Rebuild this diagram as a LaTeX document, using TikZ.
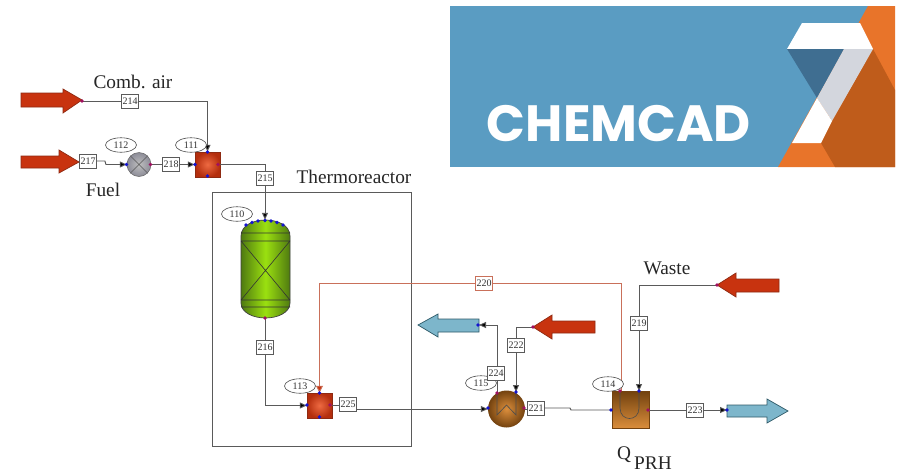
\documentclass[tikz,border=0pt]{standalone}
\usepackage{fontspec}
\setmainfont{Liberation Serif}
\newfontfamily\logofont{Poppins}
\usetikzlibrary{arrows.meta,shapes.geometric}
\definecolor{logoblue}{HTML}{5A9CC2}
\definecolor{logoorange}{HTML}{E8742A}
\definecolor{logodark}{HTML}{BF5C1B}
\definecolor{logonavy}{HTML}{3F6E91}
\definecolor{logogrey}{HTML}{D3D6DD}
\definecolor{hotred}{HTML}{C8330F}
\definecolor{hotedge}{HTML}{8E2A12}
\definecolor{HotCore}{HTML}{EE6A42}
\definecolor{coldblue}{HTML}{7DB6CB}
\definecolor{coldedge}{HTML}{2F5A68}
\definecolor{linegrey}{HTML}{5A5A5A}
\definecolor{streamred}{HTML}{C9705A}
\definecolor{portblue}{HTML}{1414D0}
\definecolor{portmag}{HTML}{A01060}
\definecolor{GreenCore}{HTML}{9BE010}
\definecolor{GreenRim}{HTML}{4F7A10}
\definecolor{BrownCore}{HTML}{DB8E3C}
\definecolor{BrownRim}{HTML}{73420F}
\tikzset{
  x=1pt,y=-1pt,
  flow/.style={draw=linegrey,line width=0.95pt,line join=miter},
  flowin/.style={flow,-{Triangle[length=7pt,width=6pt,fill=black]}},
  recycle/.style={draw=streamred,line width=0.95pt},
  recyclein/.style={recycle,-{Triangle[length=7pt,width=7pt,fill=hotred]}},
  tag/.style={draw=linegrey,fill=white,line width=0.9pt,inner sep=0pt,minimum width=17pt,minimum height=14pt,font=\fontsize{10}{11}\selectfont,text=black!80},
  unit/.style={ellipse,draw=black!70,fill=white,line width=0.6pt,inner sep=0pt,minimum width=31pt,minimum height=14.5pt,font=\fontsize{10}{11}\selectfont,text=black!80},
  caption/.style={inner sep=0pt,font=\fontsize{19.3}{22}\selectfont,text=black!85},
  mixer/.style={rectangle,minimum size=25pt,inner sep=0pt,draw=hotedge,line width=0.5pt,inner color=HotCore,outer color=hotred!90!black},
  hot/.style={fill=hotred,draw=hotedge,line width=0.7pt,line join=miter},
  cold/.style={fill=coldblue,draw=coldedge,line width=0.7pt,line join=miter},
  blueport/.style={fill=portblue},
  magport/.style={fill=portmag}
}
\newcommand{\pbl}[1]{\fill[blueport] (#1) circle (1.9pt);}
\newcommand{\pmg}[1]{\fill[magport] (#1) circle (1.9pt);}
\begin{document}
\begin{tikzpicture}
\useasboundingbox (0,0) rectangle (897,472);
\fill[white] (0,0) rectangle (897,472);
% logo
\fill[logoblue] (450,6) rectangle (895,167);
\fill[logoorange] (868,6) -- (895,6) -- (895,167) -- (778,167) -- cycle;
\fill[logodark] (873,49) -- (895,90) -- (895,167) -- (835,167) -- (821,143) -- (832,121) -- cycle;
\fill[white] (802,23) -- (860,23) -- (873,49) -- (787,49) -- cycle;
\fill[logonavy] (787,49) -- (844,49) -- (817,98) -- cycle;
\fill[logogrey] (844,49) -- (873,49) -- (832,121) -- (817,98) -- cycle;
\fill[white] (817,98) -- (832,121) -- (821,143) -- (792,143) -- cycle;
\node[inner sep=0pt,text=white,font=\logofont\bfseries\fontsize{51}{54}\selectfont] (logotext) at (619,124) {CHEMCAD};
% reactor frame
\draw[draw=linegrey,line width=0.95pt] (212,192) rectangle (411,446);
% source and sink arrows
\path[hot] (21,93) -- (63,93) -- (63,89) -- (82,100) -- (63,113) -- (63,107) -- (21,107) -- cycle;
\path[hot] (21,156) -- (59,156) -- (59,150) -- (79,162) -- (59,173) -- (59,168) -- (21,168) -- cycle;
\path[hot] (595,321) -- (552,321) -- (552,315) -- (533,327) -- (552,339) -- (552,333) -- (595,333) -- cycle;
\path[hot] (779,279) -- (736,279) -- (736,273) -- (717,285) -- (736,297) -- (736,292) -- (779,292) -- cycle;
\path[cold] (479,319) -- (438,319) -- (438,314) -- (418,325) -- (438,337) -- (438,332) -- (479,332) -- cycle;
\path[cold] (727,405) -- (767,405) -- (767,399) -- (788,411) -- (767,423) -- (767,417) -- (727,417) -- cycle;
\coordinate (air) at (82,101);
\coordinate (fuel) at (79,162);
\coordinate (steam) at (533,327);
\coordinate (waste) at (717,285);
\coordinate (out1) at (479,325);
\coordinate (out2) at (727,410);
% vessel
\path[draw=black!75,line width=0.7pt,left color=GreenRim,right color=GreenRim,middle color=GreenCore]
 (241,236) .. controls (241,225) and (254,220) .. (265.5,220) .. controls (277,220) and (290,225) .. (290,236) -- (290,303) .. controls (290,313) and (277,318) .. (265.5,318) .. controls (254,318) and (241,313) .. (241,303) -- cycle;
\node[rectangle,minimum width=49pt,minimum height=98pt,inner sep=0pt] (v110) at (265,269) {};
\draw[black!80,line width=0.6pt] (241,233) -- (290,233) (241,241) -- (290,241) (241,300) -- (290,300) (241,307) -- (290,307) (241,241) -- (290,300) (290,241) -- (241,300);
% equipment
\node[mixer] (m111) at (207.5,164.5) {};
\node[mixer] (m113) at (319.5,405.5) {};
\node[circle,minimum size=24pt,inner sep=0pt,draw=black!60,line width=0.5pt,inner color=black!25,outer color=blue!10!black!45] (p112) at (139,164.5) {};
\draw[black!65,line width=0.6pt] (p112.north west) -- (p112.south east) (p112.north east) -- (p112.south west);
\node[circle,minimum size=37pt,inner sep=0pt,inner color=BrownCore,outer color=BrownRim] (h115) at (506.5,409) {};
\node[rectangle,minimum width=37pt,minimum height=37pt,inner sep=0pt,draw=BrownRim,line width=0.4pt,top color=BrownRim,bottom color=BrownCore] (h114) at (630.5,410) {};
\draw[black!70,line width=0.6pt] (497,393) -- (497,415) -- (506.5,405) -- (516,415) -- (516,393);
\draw[black!70,line width=0.6pt] (620,391) -- (620,408) .. controls (620,422) and (639,422) .. (639,408) -- (639,391);
\node[unit] (u115) at (481,383) {115};
% stream tags
\node[tag] (s214) at (130,101) {214};
\node[tag] (s217) at (88,161) {217};
\node[tag] (s218) at (171,164.5) {218};
\node[tag] (s215) at (265,178) {215};
\node[tag] (s216) at (265,347) {216};
\node[tag] (s225) at (348,404) {225};
\node[tag,draw=streamred] (s220) at (484,283) {220};
\node[tag] (s224) at (496,373) {224};
\node[tag] (s222) at (516,345) {222};
\node[tag] (s221) at (536,408) {221};
\node[tag] (s219) at (639,323) {219};
\node[tag] (s223) at (695,410) {223};
\coordinate (h115a) at (497,393);
\coordinate (h115b) at (516,392);
\coordinate (h114a) at (621,391);
\coordinate (h114b) at (639,391);
% connectors
\draw[flow] (air) -- (s214);
\draw[flowin] (s214) -| (m111.north);
\draw[flowin] (s217.east) -- ++(8,0) -- ++(1,3.5) -- (p112.west);
\draw[flow] (p112.east) -- (s218);
\draw[flowin] (s218) -- (m111.west);
\draw[flow] (m111.east) -| (s215.north);
\draw[flowin] (s215) -- (v110.north);
\draw[flow] (v110.south) -- (s216);
\draw[flowin] (s216.south) |- (m113.west);
\draw[flow] (m113.east) -- (m113.east -| s225.west);
\draw[flowin] (s225.east |- h115) -- (h115.west);
\draw[flow] (h115.east) -- (h115.east -| s221.west);
\draw[flow] (s221.east) -- (570,408) -- (571,410) -- (h114.west);
\draw[recycle] (h114a) -- (621,283) -- (s220);
\draw[recyclein] (s220) -| (m113.north);
\draw[flow] (waste) -| (s219.north);
\draw[flowin] (s219) -- (h114b);
\draw[flow] (steam) -| (s222.north);
\draw[flowin] (s222) -- (h115b);
\draw[flow] (h115a) -- (h115a |- s224.south);
\draw[flowin] (s224.north -| h115a) |- (out1);
\draw[flow] (h114.east) -- (s223);
\draw[flowin] (s223) -- (out2);
% unit tags
\node[unit] (u112) at (121,145) {112};
\node[unit] (u111) at (191,145) {111};
\node[unit] (u110) at (237,214) {110};
\node[unit] (u113) at (300,386) {113};
\node[unit] (u114) at (608,384) {114};
% ports
\pmg{82,101}
\pbl{126.5,164.5}\pmg{150.5,164.5}
\pbl{207.5,152}\pbl{195,164.5}\pbl{207.5,176}\pmg{218,164.5}
\pbl{246,225}\pbl{252,222.5}\pbl{258,221}\pbl{265,220.5}\pbl{271,221}\pbl{277,222.5}\pbl{283,225}\pmg{265,318}
\pbl{319.5,393}\pbl{307,405}\pbl{319.5,417}\pmg{330,405}
\pbl{478,325}\pmg{533,327}\pmg{497,393}\pbl{516,392}\pbl{488,408}\pmg{524,408}
\pmg{620,391}\pbl{639,391}\pbl{611,410}\pmg{648,410}
\pmg{717,285}\pbl{727,410}
% captions
\node[caption] (capair) at (133,82) {Comb. air};
\node[caption] (capfuel) at (103,190) {Fuel};
\node[caption] (capthermo) at (354,177) {Thermoreactor};
\node[caption] (capwaste) at (667,268) {Waste};
\node[caption,anchor=base west] (capq) at (617,459) {Q};
\node[caption,anchor=base west] (capprh) at (634,469) {PRH};
\end{tikzpicture}
\end{document}
